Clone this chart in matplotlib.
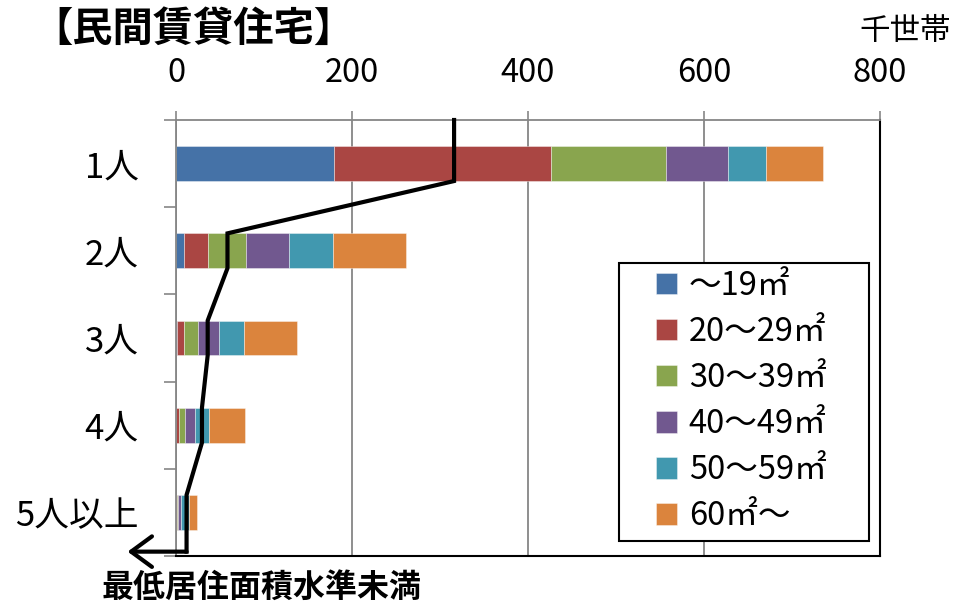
import matplotlib
matplotlib.use('Agg')
import matplotlib.pyplot as plt
from matplotlib.patches import Rectangle
import numpy as np

plt.rcParams['font.family'] = ['Noto Sans CJK JP', 'DejaVu Sans']

# Households in private rental housing (thousand households), by household size
households = ['1人', '2人', '3人', '4人', '5人以上']
size_classes = ['～19㎡', '20～29㎡', '30～39㎡', '40～49㎡', '50～59㎡', '60㎡～']
area_upto_19 = [179, 9, 1, 0.5, 0.3]
area_20_29 = [247, 27, 8, 2.5, 0.5]
area_30_39 = [131, 44, 16, 7, 2]
area_40_49 = [70, 48, 24, 12, 3]
area_50_59 = [43, 50, 28, 15.5, 8.5]
area_60_up = [65, 83, 60, 41, 10]
# boundary of households below the minimum housing area standard
min_standard = [316, 58.5, 36, 29.5, 12]
x_ticks = [0, 200, 400, 600, 800]

colors = ['#4572A7', '#AA4643', '#89A54E', '#71588F', '#4198AF', '#DB843D']
series = [area_upto_19, area_20_29, area_30_39, area_40_49, area_50_59, area_60_up]

W, H = 955, 604
fig = plt.figure(figsize=(W / 100, H / 100), dpi=100)
ax = fig.add_axes([176 / W, 1 - 556 / H, (880 - 176) / W, (556 - 120) / H])

y = np.arange(len(households))
bar_h = 0.4
left = np.zeros(len(households))
handles = []
for vals, col, lab in zip(series, colors, size_classes):
    b = ax.barh(y, vals, left=left, height=bar_h, color=col, label=lab,
                edgecolor=(1, 1, 1, 0.45), linewidth=0.6, zorder=2)
    handles.append(b)
    left += np.array(vals)

ax.set_xlim(0, 800)
ax.set_ylim(len(households) - 0.5, -0.5)

# minimum standard line: vertical through each bar, slanted between bars
line_x, line_y = [], []
for i, v in enumerate(min_standard):
    top = -0.5 if i == 0 else i - bar_h / 2
    bot = i + 0.45 if i == len(households) - 1 else i + bar_h / 2
    line_x += [v, v]
    line_y += [top, bot]
ax.plot(line_x, line_y, color='black', lw=3, zorder=4, clip_on=False,
        solid_joinstyle='miter')
arrow_tip = -55
ax.annotate('', xy=(arrow_tip, line_y[-1]), xytext=(line_x[-1], line_y[-1]),
            arrowprops=dict(arrowstyle='->,head_length=1.5,head_width=1.1',
                            lw=3, color='black', shrinkA=0, shrinkB=0,
                            mutation_scale=10),
            annotation_clip=False, zorder=4)

# axes styling
ax.xaxis.tick_top()
ax.set_xticks(x_ticks)
ax.set_xticklabels([str(t) for t in x_ticks])
ax.tick_params(axis='x', length=6.5, width=1.2, color='#868686',
               labelsize=23.5, pad=16)
ax.set_yticks(y)
ax.set_yticklabels(households)
ax.tick_params(axis='y', which='major', length=0, labelsize=25, pad=27)
ax.set_yticks(np.arange(-0.5, len(households)), minor=True)
ax.tick_params(axis='y', which='minor', length=8.6, width=1.2, color='#868686')
ax.grid(axis='x', color='#868686', lw=1.3, zorder=0)
ax.set_axisbelow(True)
for side in ['top', 'left']:
    ax.spines[side].set_color('#868686')
    ax.spines[side].set_linewidth(1.3)
for side in ['right', 'bottom']:
    ax.spines[side].set_color('black')
    ax.spines[side].set_linewidth(1.5)

# legend with its own box
fig.add_artist(Rectangle((619 / W, 1 - 541 / H), 250 / W, 278 / H,
                         transform=fig.transFigure, facecolor='white',
                         edgecolor='black', lw=1.5, zorder=3))
leg = fig.legend(handles, size_classes, loc='upper left',
                 bbox_to_anchor=(656 / W, 1 - 270 / H), frameon=False,
                 fontsize=23.5, handlelength=0.65, handleheight=0.65,
                 handletextpad=0.35, labelspacing=0.43, borderpad=0,
                 borderaxespad=0)
leg.set_zorder(5)

fig.text(32 / W, 1 - 29 / H, '【民間賃貸住宅】', fontsize=29,
         fontweight='bold', ha='left', va='center')
fig.text(951 / W, 1 - 31 / H, '千世帯', fontsize=22, ha='right', va='center')
fig.text(262 / W, 1 - 588 / H, '最低居住面積水準未満', fontsize=23,
         fontweight='bold', ha='center', va='center')

fig.savefig('out.png', dpi=100)
